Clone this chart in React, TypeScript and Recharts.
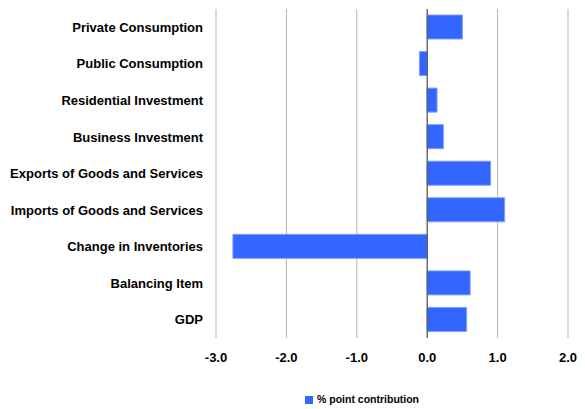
import { BarChart, Bar, XAxis, YAxis, CartesianGrid, ReferenceLine, Legend } from "recharts";

const categories = [
  "Private Consumption",
  "Public Consumption",
  "Residential Investment",
  "Business Investment",
  "Exports of Goods and Services",
  "Imports of Goods and Services",
  "Change in Inventories",
  "Balancing Item",
  "GDP",
];
const contribution = [0.5, -0.11, 0.14, 0.23, 0.9, 1.1, -2.76, 0.61, 0.56];
const xTicks = [-3, -2, -1, 0, 1, 2];

const data = categories.map((name, i) => ({ name, value: contribution[i] }));

const font = "Liberation Sans, Arial, sans-serif";

export default function App() {
  return (
    <div style={{ position: "absolute", left: 0, top: 0 }}>
      <BarChart
        width={585}
        height={409}
        data={data}
        layout="vertical"
        margin={{ top: 9, right: 17, left: 0, bottom: 19 }}
        barSize={24}
      >
        <CartesianGrid horizontal={false} stroke="#b3b3b3" />
        <XAxis
          type="number"
          domain={[-3, 2]}
          ticks={xTicks}
          tickFormatter={(v: number) => v.toFixed(1)}
          axisLine={false}
          tickLine={false}
          tickSize={0}
          tickMargin={15}
          height={40}
          tick={{ fill: "#000", fontSize: 13, fontWeight: "bold", fontFamily: font }}
        />
        <YAxis
          type="category"
          dataKey="name"
          width={216}
          axisLine={false}
          tickLine={false}
          tickSize={0}
          tickMargin={13}
          interval={0}
          tick={{ fill: "#000", fontSize: 13, fontWeight: "bold", fontFamily: font }}
        />
        <ReferenceLine x={0} stroke="#444" />
        <Legend
          verticalAlign="bottom"
          iconType="square"
          iconSize={8}
          wrapperStyle={{
            fontSize: 10.5,
            fontWeight: "bold",
            fontFamily: font,
            color: "#000",
            top: 393,
            left: 297,
            width: 140,
            textAlign: "left",
          }}
          formatter={(v: string) => <span style={{ color: "#000" }}>{v}</span>}
        />
        <Bar
          dataKey="value"
          name="% point contribution"
          fill="#3366ff"
          stroke="#7f9cff"
          strokeWidth={1}
          isAnimationActive={false}
        />
      </BarChart>
    </div>
  );
}
